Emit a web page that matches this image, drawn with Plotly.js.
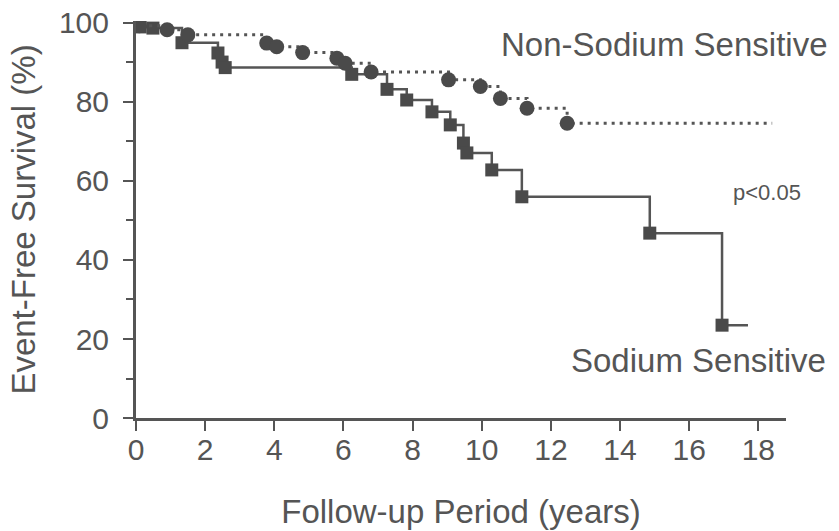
<!DOCTYPE html>
<html>
<head>
<meta charset="utf-8">
<script src="https://cdn.plot.ly/plotly-3.0.1.min.js"></script>
<style>
  html, body { margin: 0; padding: 0; background: #ffffff; }
  #chart { width: 839px; height: 531px; }
</style>
</head>
<body>
<div id="chart"></div>
<script>
// ---- Data (Kaplan-Meier style step curves) ----
// Sodium Sensitive: first and last entries are the curve start/end (no marker)
var sodiumYears    = [0, 0.12, 0.49, 1.33, 2.37, 2.49, 2.58, 6.24, 7.26, 7.83, 8.56, 9.09, 9.47, 9.57, 10.29, 11.16, 14.86, 16.95, 17.7];
var sodiumSurvival = [100, 99.0, 98.7, 95.0, 92.4, 90.1, 88.7, 87.0, 83.2, 80.5, 77.5, 74.2, 69.6, 67.1, 62.8, 56.0, 46.8, 23.5, 23.5];

// Non-Sodium Sensitive: first and last entries are the curve start/end (no marker)
var nonSodiumYears    = [0, 0.1, 0.9, 1.5, 3.78, 4.07, 4.82, 5.81, 6.05, 6.8, 9.04, 9.96, 10.54, 11.31, 12.47, 18.4];
var nonSodiumSurvival = [100, 99.3, 98.3, 97.0, 94.9, 94.0, 92.5, 91.1, 89.8, 87.6, 85.6, 83.9, 80.9, 78.4, 74.6, 74.6];

var xTicks = [0, 2, 4, 6, 8, 10, 12, 14, 16, 18];
var yTicks = [0, 20, 40, 60, 80, 100];

var seriesNames = ["Sodium Sensitive", "Non-Sodium Sensitive"];
var pLabel = "p<0.05";

// ---- Styling ----
var ink = "#555555";
var markInk = "#4a4a4a";
var fam = "Liberation Sans, Arial, Helvetica, sans-serif";

function inner(a) { return a.slice(1, a.length - 1); }

var traces = [
  { // Sodium sensitive step line
    x: sodiumYears, y: sodiumSurvival, type: "scatter", mode: "lines",
    line: { shape: "hv", color: ink, width: 2.5 },
    hoverinfo: "skip", showlegend: false
  },
  { // Sodium sensitive markers
    x: inner(sodiumYears), y: inner(sodiumSurvival), type: "scatter", mode: "markers",
    name: seriesNames[0],
    marker: { symbol: "square", size: 13, color: markInk },
    showlegend: false
  },
  { // Non-sodium dotted step line
    x: nonSodiumYears, y: nonSodiumSurvival, type: "scatter", mode: "lines",
    line: { shape: "hv", color: ink, width: 3, dash: "3px,5px" },
    hoverinfo: "skip", showlegend: false
  },
  { // Non-sodium markers
    x: inner(nonSodiumYears), y: inner(nonSodiumSurvival), type: "scatter", mode: "markers",
    name: seriesNames[1],
    marker: { symbol: "circle", size: 15, color: markInk },
    showlegend: false
  }
];

var layout = {
  width: 839, height: 531,
  margin: { l: 136, r: 53, t: 21, b: 113 },
  paper_bgcolor: "#ffffff", plot_bgcolor: "#ffffff",
  font: { family: fam, color: ink },
  showlegend: false,
  xaxis: {
    range: [0, 18.8],
    tickmode: "array", tickvals: xTicks, ticktext: xTicks.map(String),
    ticks: "outside", ticklen: 10, tickwidth: 2, tickcolor: ink,
    ticklabelstandoff: -7,
    showline: true, linewidth: 3, linecolor: ink,
    showgrid: false, zeroline: false,
    tickfont: { family: fam, size: 30, color: ink },
    title: { text: "Follow-up Period (years)", font: { family: fam, size: 33, color: ink }, standoff: 35 }
  },
  yaxis: {
    range: [0, 100.5],
    tickmode: "array", tickvals: yTicks, ticktext: yTicks.map(String),
    ticks: "outside", ticklen: 10, tickwidth: 2, tickcolor: ink,
    ticklabelstandoff: 8,
    minor: { dtick: 10, tick0: 0, ticks: "outside", ticklen: 7, tickwidth: 2, tickcolor: ink, showgrid: false },
    showline: true, linewidth: 3, linecolor: ink,
    showgrid: false, zeroline: false,
    tickfont: { family: fam, size: 30, color: ink },
    title: { text: "Event-Free Survival (%)", font: { family: fam, size: 33, color: ink }, standoff: 14 }
  },
  annotations: [
    { text: seriesNames[1], xref: "paper", yref: "paper", x: 1.068, y: 0.942,
      xanchor: "right", yanchor: "middle", showarrow: false,
      font: { family: fam, size: 33, color: ink } },
    { text: seriesNames[0], xref: "paper", yref: "paper", x: 1.065, y: 0.145,
      xanchor: "right", yanchor: "middle", showarrow: false,
      font: { family: fam, size: 33, color: ink } },
    { text: pLabel, xref: "paper", yref: "paper", x: 1.026, y: 0.567,
      xanchor: "right", yanchor: "middle", showarrow: false,
      font: { family: fam, size: 22, color: ink } }
  ]
};

Plotly.newPlot("chart", traces, layout, { displayModeBar: false, staticPlot: true });
</script>
</body>
</html>
